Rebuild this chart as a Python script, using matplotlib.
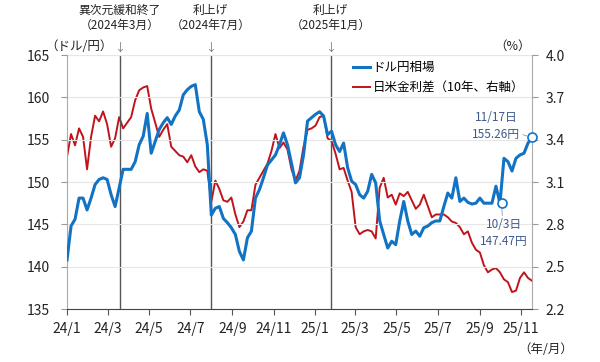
import matplotlib
matplotlib.use("Agg")
import matplotlib.pyplot as plt
import matplotlib.dates as mdates
import pandas as pd

plt.rcParams["font.family"] = ["Noto Sans CJK JP", "DejaVu Sans"]

# USD/JPY (left axis), sampled evenly from 2024/1/1 to 2025/11/17
usdjpy = [
    140.8, 144.8, 145.6, 148.1, 148.1, 146.7, 148.1, 149.7, 150.3, 150.5,
    150.3, 148.5, 147.1, 149.3, 151.5, 151.5, 151.5, 152.4, 154.4, 155.4,
    158.1, 153.4, 154.8, 156.2, 157.0, 157.6, 156.8, 157.8, 158.5, 160.3,
    160.9, 161.3, 161.5, 158.3, 157.4, 154.4, 146.1, 146.9, 147.1, 145.7,
    145.2, 144.6, 143.8, 141.8, 140.8, 143.4, 144.2, 148.1, 149.1, 150.5,
    152.0, 152.6, 153.2, 154.4, 155.8, 154.4, 152.2, 149.9, 150.5, 153.2,
    157.2, 157.6, 158.0, 158.3, 157.8, 155.6, 156.0, 154.4, 153.6, 154.6,
    151.7, 150.1, 149.7, 148.5, 148.1, 148.9, 150.9, 149.9, 145.4, 143.8,
    142.2, 143.0, 142.6, 145.4, 147.7, 145.4, 143.8, 144.2, 143.6, 144.6,
    144.8, 145.2, 145.4, 145.4, 147.1, 148.7, 148.1, 150.5, 147.7, 148.1,
    147.6, 147.4, 147.5, 148.1, 147.5, 147.5, 147.5, 149.5, 147.5, 152.8,
    152.4, 151.3, 152.8, 153.2, 153.4, 154.6, 155.26,
]

# US-Japan 10y yield spread, % (right axis)
spread = [
    3.28, 3.44, 3.36, 3.48, 3.42, 3.19, 3.42, 3.57, 3.53, 3.60,
    3.51, 3.35, 3.41, 3.56, 3.48, 3.52, 3.56, 3.68, 3.75, 3.77,
    3.78, 3.62, 3.52, 3.42, 3.47, 3.51, 3.35, 3.32, 3.29, 3.28,
    3.24, 3.29, 3.21, 3.17, 3.19, 3.18, 2.96, 3.11, 3.05, 2.97,
    2.96, 2.99, 2.87, 2.78, 2.82, 2.90, 2.90, 3.08, 3.13, 3.18,
    3.23, 3.32, 3.44, 3.34, 3.38, 3.33, 3.19, 3.11, 3.18, 3.35,
    3.47, 3.48, 3.50, 3.56, 3.57, 3.41, 3.39, 3.30, 3.19, 3.20,
    3.11, 3.03, 2.78, 2.73, 2.75, 2.76, 2.75, 2.70, 3.06, 3.13,
    2.99, 3.01, 2.94, 3.02, 3.00, 3.03, 2.97, 2.91, 2.94, 3.01,
    2.93, 2.85, 2.87, 2.87, 2.87, 2.85, 2.82, 2.81, 2.78, 2.73,
    2.75, 2.67, 2.62, 2.60, 2.51, 2.46, 2.48, 2.49, 2.46, 2.41,
    2.39, 2.32, 2.33, 2.42, 2.46, 2.42, 2.40,
]

dates = pd.date_range("2024-01-01", "2025-11-17", periods=len(usdjpy))

events = ["2024-03-19", "2024-07-31", "2025-01-24"]
event_labels = ["異次元緩和終了\n（2024年3月）", "利上げ\n（2024年7月）", "利上げ\n（2025年1月）"]

mark_dates = ["2025-10-03", "2025-11-17"]
mark_values = [147.47, 155.26]
mark_labels = ["10/3日\n147.47円", "11/17日\n155.26円"]

blue = "#1273C4"
red = "#C0141C"
note = "#3F5A8A"

fig = plt.figure(figsize=(6, 3.62), dpi=100)
ax = fig.add_axes([0.1117, 0.1464, 0.775, 0.7016])
ax2 = ax.twinx()

l1, = ax.plot(dates, usdjpy, color=blue, lw=2.2, label="ドル円相場", zorder=3)
l2, = ax2.plot(dates, spread, color=red, lw=1.4, label="日米金利差（10年、右軸）", zorder=2)
ax.set_zorder(2)
ax.patch.set_visible(False)

ax.set_xlim(pd.Timestamp("2024-01-01"), pd.Timestamp("2025-11-17"))
ax.set_ylim(135, 165)
ax2.set_ylim(2.2, 4.0)
ax.set_yticks(range(135, 166, 5))
ax2.set_yticks([2.2, 2.5, 2.8, 3.1, 3.4, 3.7, 4.0])
ax2.yaxis.set_major_formatter(matplotlib.ticker.FormatStrFormatter("%.1f"))

ax.xaxis.set_major_locator(mdates.MonthLocator(bymonth=[1, 3, 5, 7, 9, 11]))
ax.xaxis.set_major_formatter(
    matplotlib.ticker.FuncFormatter(lambda v, _: "%d/%d" % (mdates.num2date(v).year % 100, mdates.num2date(v).month))
)

for a in (ax, ax2):
    a.tick_params(labelsize=10, colors="#222222", length=4, width=0.8)
    a.spines["top"].set_visible(False)
ax.tick_params(axis="y", pad=8, color="#999999")
ax2.tick_params(axis="y", pad=6, color="#999999")
ax.tick_params(axis="x", pad=5, color="#555555")
ax.spines["left"].set_color("#aaaaaa")
ax2.spines["left"].set_visible(False)
ax2.spines["right"].set_color("#aaaaaa")
ax2.spines["bottom"].set_visible(False)
ax.spines["right"].set_visible(False)
ax.spines["bottom"].set_color("#444444")

ax.grid(axis="y", color="#e6e6e6", lw=0.8)
ax.axhline(165, color="#e6e6e6", lw=0.8)

for d, lab in zip(events, event_labels):
    x = pd.Timestamp(d)
    ax.axvline(x, color="#555555", lw=1.0, zorder=1)
    ax.annotate(lab, (x, 1.145), xycoords=("data", "axes fraction"), ha="center", va="center",
                fontsize=8.5, color="#222222", linespacing=1.2, annotation_clip=False)
    ax.annotate("↓", (x, 1.03), xycoords=("data", "axes fraction"), ha="center", va="center",
                fontsize=8, color="#777777", annotation_clip=False)

# marked points
ax.plot(pd.to_datetime(mark_dates), mark_values, "o", ms=6.5, mfc="white", mec=blue, mew=1.2,
        zorder=5, clip_on=False)
ax.annotate(mark_labels[0], (pd.Timestamp(mark_dates[0]), mark_values[0]), xytext=(2, -30),
            textcoords="offset pixels", ha="center", va="center", fontsize=8.5, color=note,
            linespacing=1.4, arrowprops=dict(arrowstyle="-", color="#999999", lw=0.6, shrinkA=0, shrinkB=4))
ax.annotate(mark_labels[1], (pd.Timestamp(mark_dates[1]), mark_values[1]), xytext=(-36, 11),
            textcoords="offset pixels", ha="center", va="center", fontsize=8.5, color=note,
            linespacing=1.4, annotation_clip=False,
            arrowprops=dict(arrowstyle="-", color="#999999", lw=0.6, shrinkA=0, shrinkB=4))

ax.legend([l1, l2], [l1.get_label(), l2.get_label()], loc="upper left", bbox_to_anchor=(0.59, 1.02),
          frameon=False, fontsize=9, handlelength=1.4, handletextpad=0.2, labelspacing=0.6)

fig.text(0.075, 0.872, "（ドル/円）", fontsize=9, ha="left", va="center", color="#222222")
fig.text(0.885, 0.872, "（%）", fontsize=9, ha="right", va="center", color="#222222")
fig.text(0.955, 0.035, "（年/月）", fontsize=9, ha="right", va="center", color="#222222")

fig.savefig("out.png", dpi=100)
